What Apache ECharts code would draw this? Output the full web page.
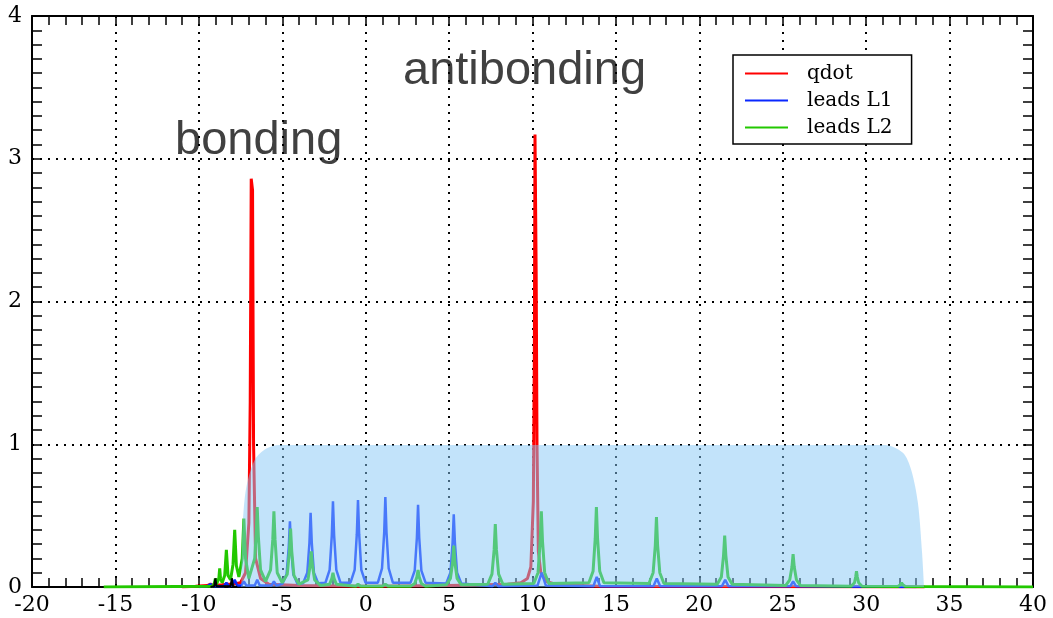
<!DOCTYPE html>
<html>
<head>
<meta charset="utf-8">
<script src="https://cdn.jsdelivr.net/npm/echarts@6/dist/echarts.min.js"></script>
<style>
  html, body { margin: 0; padding: 0; background: #fff; }
  #main { width: 1053px; height: 618px; }
</style>
</head>
<body>
<div id="main"></div>
<script>
// axis ranges
var xMin = -20, xMax = 40, xStep = 5;
var yMin = 0, yMax = 4, yStep = 1;

var seriesNames = ['qdot', 'leads L1', 'leads L2'];

// qdot spectral weight [energy, value]
var qdotData = [
    [-11, 0], [-10.2, 0.005], [-9.5, 0.01], [-9.3, 0.02], [-9.1, 0.01], [-8.6, 0.015],
    [-8.3, 0.02], [-8.0, 0.02], [-7.5, 0.03], [-7.2, 0.1], [-7.0, 0.45], [-6.92, 1.3],
    [-6.86, 2.86], [-6.78, 2.78], [-6.72, 1.0], [-6.6, 0.2], [-6.3, 0.06], [-5.8, 0.02],
    [-4, 0.01], [0, 0.005], [5, 0.01], [8.5, 0.02], [9.3, 0.03], [9.7, 0.06], [9.9, 0.14],
    [10.05, 0.6], [10.11, 1.6], [10.15, 3.17], [10.22, 2.21], [10.27, 1.0], [10.35, 0.25],
    [10.5, 0.1], [10.8, 0.04], [11.5, 0.015], [14, 0.005], [33.5, 0]
];

// leads L1
var leadsL1Data = [
    [-10, 0], [-9.5, 0.005], [-9.3, 0.02], [-9.1, 0.005],
    [-8.5, 0.005], [-8.35, 0.03], [-8.2, 0.005],
    [-8.0, 0.01], [-7.85, 0.05], [-7.7, 0.01],
    [-7.45, 0.01], [-7.3, 0.04], [-7.15, 0.01],
    [-6.65, 0.01], [-6.5, 0.05], [-6.35, 0.01],
    [-5.65, 0.01], [-5.5, 0.04], [-5.35, 0.01],
    [-4.99, 0.023], [-4.74, 0.09], [-4.61, 0.28], [-4.54, 0.46], [-4.47, 0.28], [-4.34, 0.09], [-4.09, 0.023],
    [-3.75, 0.026], [-3.5, 0.10], [-3.37, 0.31], [-3.30, 0.52], [-3.23, 0.31], [-3.10, 0.10], [-2.85, 0.026],
    [-2.41, 0.03], [-2.16, 0.12], [-2.03, 0.36], [-1.96, 0.60], [-1.89, 0.36], [-1.76, 0.12], [-1.51, 0.03],
    [-0.91, 0.03], [-0.66, 0.12], [-0.53, 0.37], [-0.46, 0.61], [-0.39, 0.37], [-0.26, 0.12], [-0.01, 0.03],
    [0.73, 0.03], [0.98, 0.13], [1.11, 0.38], [1.18, 0.63], [1.25, 0.38], [1.38, 0.13], [1.63, 0.03],
    [2.69, 0.03], [2.94, 0.115], [3.07, 0.345], [3.14, 0.575], [3.21, 0.345], [3.34, 0.115], [3.59, 0.03],
    [4.83, 0.025], [5.08, 0.10], [5.21, 0.31], [5.28, 0.51], [5.35, 0.31], [5.48, 0.10], [5.73, 0.025],
    [7.6, 0.005], [7.77, 0.03], [7.95, 0.005],
    [10.3, 0.01], [10.55, 0.1], [10.8, 0.01],
    [13.65, 0.005], [13.85, 0.07], [14.05, 0.005],
    [17.25, 0.005], [17.45, 0.06], [17.65, 0.005],
    [21.35, 0.005], [21.55, 0.05], [21.75, 0.005],
    [25.45, 0.005], [25.62, 0.04], [25.8, 0.005],
    [33, 0]
];

// leads L2
var leadsL2Data = [
    [-15.7, 0], [-9.2, 0.005], [-9.08, 0.02], [-9.01, 0.06], [-8.94, 0.02], [-8.85, 0.02],
    [-8.8, 0.06], [-8.75, 0.13], [-8.7, 0.06], [-8.6, 0.03], [-8.45, 0.08], [-8.35, 0.26],
    [-8.25, 0.08], [-8.1, 0.05], [-7.95, 0.16], [-7.85, 0.40], [-7.75, 0.15], [-7.6, 0.07],
    [-7.4, 0.2], [-7.30, 0.48], [-7.2, 0.2], [-7.0, 0.06], [-6.65, 0.2], [-6.55, 0.40],
    [-6.5, 0.56], [-6.43, 0.35], [-6.3, 0.12], [-6.0, 0.04], [-5.7, 0.12], [-5.57, 0.33],
    [-5.5, 0.53], [-5.43, 0.33], [-5.3, 0.1], [-5.0, 0.03], [-4.7, 0.09], [-4.57, 0.25],
    [-4.5, 0.41], [-4.43, 0.25], [-4.3, 0.08], [-4.0, 0.02],
    [-3.46, 0.05], [-3.33, 0.15], [-3.26, 0.25], [-3.19, 0.15], [-3.06, 0.05], [-2.7, 0.01],
    [-2.16, 0.02], [-2.03, 0.06], [-1.96, 0.10], [-1.89, 0.06], [-1.76, 0.02],
    [-0.6, 0.005], [-0.46, 0.02], [-0.3, 0.005],
    [1.0, 0.005], [1.18, 0.02], [1.35, 0.005],
    [2.69, 0.006], [2.94, 0.025], [3.07, 0.07], [3.14, 0.12], [3.21, 0.07], [3.34, 0.025], [3.59, 0.006],
    [4.83, 0.015], [5.08, 0.06], [5.21, 0.17], [5.28, 0.29], [5.35, 0.17], [5.48, 0.06], [5.73, 0.015],
    [7.32, 0.02], [7.57, 0.09], [7.70, 0.26], [7.77, 0.44], [7.84, 0.26], [7.97, 0.09], [8.22, 0.02],
    [10.08, 0.025], [10.33, 0.1], [10.46, 0.32], [10.53, 0.53], [10.60, 0.32], [10.73, 0.1], [10.98, 0.025],
    [13.38, 0.03], [13.63, 0.11], [13.76, 0.34], [13.83, 0.56], [13.90, 0.34], [14.03, 0.11], [14.28, 0.03],
    [16.98, 0.025], [17.23, 0.1], [17.36, 0.29], [17.43, 0.49], [17.50, 0.29], [17.63, 0.1], [17.88, 0.025],
    [21.07, 0.02], [21.32, 0.07], [21.45, 0.22], [21.52, 0.36], [21.59, 0.22], [21.72, 0.07], [21.97, 0.02],
    [25.17, 0.01], [25.42, 0.05], [25.55, 0.14], [25.62, 0.23], [25.69, 0.14], [25.82, 0.05], [26.07, 0.01],
    [29.1, 0.005], [29.3, 0.03], [29.37, 0.07], [29.42, 0.11], [29.47, 0.07], [29.55, 0.03], [29.75, 0.005],
    [31.9, 0.003], [32.05, 0.015], [32.12, 0.03], [32.2, 0.015], [32.35, 0.003],
    [40, 0]
];

// small black spikes near the band edge
var edgeData = [
    [-9.3, 0], [-9.08, 0.005], [-9.01, 0.06], [-8.94, 0.005],
    [-8.1, 0.005], [-8.02, 0.06], [-7.95, 0.005], [-7.7, 0]
];

// lead band (shaded)
var bandData = [
    [-7.45, 0], [-7.42, 0.3], [-7.36, 0.47], [-7.15, 0.70], [-6.65, 0.89], [-5.95, 0.97],
    [-5.16, 0.995], [31.12, 0.995], [32.2, 0.94], [32.7, 0.82], [33.1, 0.59], [33.35, 0.24], [33.47, 0]
];

var myChart = echarts.init(document.getElementById('main'));

var labelFont = { fontFamily: 'DejaVu Serif', fontSize: 22, color: '#000' };
var gridLine = { show: true, lineStyle: { color: '#000', width: 2, type: [2, 6] } };
var axisLn = { show: true, onZero: false, lineStyle: { color: '#000', width: 2 } };

var option = {
    animation: false,
    backgroundColor: '#fff',
    grid: { left: 32, right: 20, top: 16, bottom: 31 },
    legend: {
        data: seriesNames,
        orient: 'vertical',
        left: 733,
        top: 55,
        padding: [8, 19, 6, 12],
        borderColor: '#000',
        borderWidth: 1.5,
        backgroundColor: '#fff',
        itemWidth: 43,
        itemHeight: 2,
        itemGap: 6,
        icon: 'rect',
        textStyle: {
            fontFamily: 'DejaVu Serif',
            fontSize: 20,
            lineHeight: 21,
            color: '#000',
            padding: [0, 0, 0, 14]
        }
    },
    xAxis: [{
        type: 'value',
        min: xMin, max: xMax, interval: xStep,
        position: 'bottom',
        axisLine: axisLn,
        axisTick: { inside: true, length: 9, lineStyle: { color: '#000', width: 1.5 } },
        minorTick: { show: true, splitNumber: 5, length: 9, lineStyle: { color: '#000', width: 1.5 } },
        axisLabel: Object.assign({ margin: 7 }, labelFont),
        splitLine: gridLine
    }, {
        type: 'value',
        min: xMin, max: xMax, interval: xStep,
        position: 'top',
        axisLine: axisLn,
        axisTick: { inside: true, length: 9, lineStyle: { color: '#000', width: 1.5 } },
        minorTick: { show: true, splitNumber: 5, length: 9, lineStyle: { color: '#000', width: 1.5 } },
        axisLabel: { show: false },
        splitLine: { show: false }
    }],
    yAxis: [{
        type: 'value',
        min: yMin, max: yMax, interval: yStep,
        position: 'left',
        axisLine: axisLn,
        axisTick: { show: true, inside: true, length: 10, lineStyle: { color: '#000', width: 1.5 } },
        minorTick: { show: true, splitNumber: 10, length: 10, lineStyle: { color: '#000', width: 1.5 } },
        axisLabel: Object.assign({ margin: 10 }, labelFont),
        splitLine: gridLine
    }, {
        type: 'value',
        min: yMin, max: yMax, interval: yStep,
        position: 'right',
        axisLine: axisLn,
        axisTick: { show: true, inside: true, length: 10, lineStyle: { color: '#000', width: 1.5 } },
        minorTick: { show: true, splitNumber: 10, length: 10, lineStyle: { color: '#000', width: 1.5 } },
        axisLabel: { show: false },
        splitLine: { show: false }
    }],
    graphic: [{
        type: 'text',
        left: 175,
        top: 118,
        style: { text: 'bonding', font: '47px "Liberation Sans", Arial, sans-serif', fill: '#404040' }
    }, {
        type: 'text',
        left: 403,
        top: 48,
        style: { text: 'antibonding', font: '47px "Liberation Sans", Arial, sans-serif', fill: '#404040' }
    }],
    series: [{
        name: 'qdot',
        type: 'line',
        data: qdotData,
        showSymbol: false,
        symbol: 'none',
        color: '#ff0000',
        lineStyle: { width: 3 },
        z: 2
    }, {
        name: 'leads L1',
        type: 'line',
        data: leadsL1Data,
        showSymbol: false,
        symbol: 'none',
        color: '#0a28ff',
        lineStyle: { width: 2.5 },
        z: 2
    }, {
        name: 'leads L2',
        type: 'line',
        data: leadsL2Data,
        showSymbol: false,
        symbol: 'none',
        color: '#22c800',
        lineStyle: { width: 3 },
        z: 2
    }, {
        name: 'edge',
        type: 'line',
        data: edgeData,
        showSymbol: false,
        symbol: 'none',
        color: '#000',
        lineStyle: { width: 2 },
        z: 2
    }, {
        name: 'band',
        type: 'line',
        data: bandData,
        showSymbol: false,
        symbol: 'none',
        smooth: 0.3,
        lineStyle: { width: 0 },
        areaStyle: { color: 'rgba(133, 200, 245, 0.5)', opacity: 1 },
        z: 3
    }]
};

myChart.setOption(option);
</script>
</body>
</html>
